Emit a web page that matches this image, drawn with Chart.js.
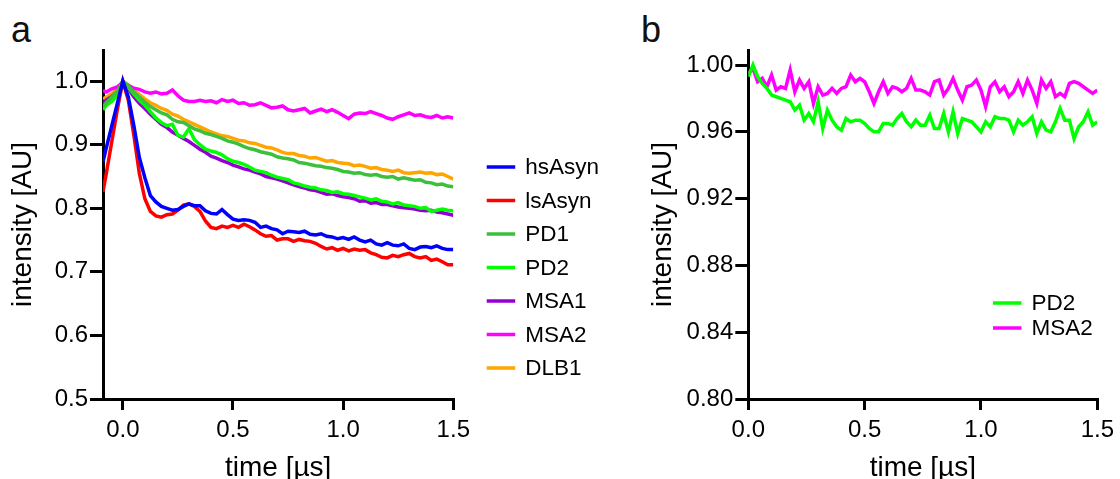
<!DOCTYPE html>
<html>
<head>
<meta charset="utf-8">
<script src="https://cdn.jsdelivr.net/npm/chart.js@4.4.0/dist/chart.umd.min.js"></script>
<style>
  body { margin: 0; background: #fff; width: 1120px; height: 479px; overflow: hidden; position: relative; font-family: "Liberation Sans", Arial, sans-serif; }
  canvas { position: absolute; top: 0; }
  #chartA { left: 0; }
  #chartB { left: 620px; }
  .panel-tag { position: absolute; font-size: 36px; line-height: 1; color: #111; }
</style>
</head>
<body>
<div class="panel-tag" style="left:11px; top:12px">a</div>
<div class="panel-tag" style="left:641px; top:12px">b</div>
<canvas id="chartA" width="620" height="479"></canvas>
<canvas id="chartB" width="500" height="479"></canvas>
<script>
// ---- panel a data (time in µs, intensity normalised) ----
const timeA = [-0.09, -0.075, -0.05, -0.025,
  0, 0.025, 0.05, 0.075, 0.1, 0.125, 0.15, 0.175, 0.2, 0.225,
  0.25, 0.275, 0.3, 0.325, 0.35, 0.375, 0.4, 0.425, 0.45, 0.475,
  0.5, 0.525, 0.55, 0.575, 0.6, 0.625, 0.65, 0.675, 0.7, 0.725,
  0.75, 0.775, 0.8, 0.825, 0.85, 0.875, 0.9, 0.925, 0.95, 0.975,
  1.0, 1.025, 1.05, 1.075, 1.1, 1.125, 1.15, 1.175, 1.2, 1.225,
  1.25, 1.275, 1.3, 1.325, 1.35, 1.375, 1.4, 1.425, 1.45, 1.475,
  1.5];

const hsAsyn = [0.873, 0.895, 0.930, 0.965,
  1.000, 0.975, 0.930, 0.880, 0.848, 0.820, 0.810, 0.803, 0.800, 0.797,
  0.798, 0.803, 0.807, 0.804, 0.804, 0.796, 0.792, 0.791, 0.798, 0.790,
  0.783, 0.781, 0.782, 0.781, 0.778, 0.770, 0.772, 0.768, 0.766, 0.760,
  0.764, 0.763, 0.762, 0.764, 0.759, 0.758, 0.760, 0.756, 0.755, 0.752,
  0.754, 0.751, 0.755, 0.750, 0.747, 0.750, 0.744, 0.742, 0.746, 0.742,
  0.741, 0.744, 0.737, 0.735, 0.739, 0.740, 0.738, 0.741, 0.737, 0.735,
  0.735];

const lsAsyn = [0.826, 0.855, 0.905, 0.955,
  1.000, 0.970, 0.915, 0.855, 0.815, 0.795, 0.788, 0.786, 0.790, 0.791,
  0.797, 0.805, 0.807, 0.803, 0.795, 0.780, 0.770, 0.768, 0.772, 0.770,
  0.773, 0.770, 0.775, 0.771, 0.766, 0.760, 0.756, 0.757, 0.750, 0.752,
  0.752, 0.748, 0.751, 0.749, 0.748, 0.745, 0.740, 0.736, 0.738, 0.734,
  0.737, 0.733, 0.736, 0.734, 0.735, 0.730, 0.727, 0.723, 0.722, 0.726,
  0.724, 0.727, 0.729, 0.724, 0.722, 0.724, 0.718, 0.720, 0.716, 0.711,
  0.711];

const pd1 = [0.960, 0.966, 0.975, 0.984,
  1.000, 0.992, 0.983, 0.975, 0.967, 0.960, 0.955, 0.950, 0.947, 0.940,
  0.936, 0.935, 0.930, 0.925, 0.922, 0.918, 0.916, 0.913, 0.910, 0.906,
  0.904, 0.901, 0.897, 0.894, 0.892, 0.889, 0.887, 0.885, 0.881, 0.879,
  0.878, 0.876, 0.872, 0.871, 0.869, 0.867, 0.866, 0.864, 0.863, 0.861,
  0.858, 0.857, 0.855, 0.856, 0.853, 0.852, 0.853, 0.850, 0.849, 0.850,
  0.846, 0.848, 0.846, 0.844, 0.845, 0.841, 0.840, 0.837, 0.838, 0.835,
  0.834];

const pd2 = [0.955, 0.962, 0.968, 0.978,
  1.000, 0.990, 0.980, 0.970, 0.962, 0.952, 0.942, 0.935, 0.930, 0.932,
  0.915, 0.912, 0.925, 0.908, 0.900, 0.893, 0.890, 0.888, 0.884, 0.878,
  0.874, 0.872, 0.869, 0.865, 0.860, 0.858, 0.856, 0.852, 0.849, 0.847,
  0.845, 0.840, 0.838, 0.835, 0.833, 0.832, 0.829, 0.828, 0.825, 0.826,
  0.823, 0.822, 0.820, 0.818, 0.816, 0.813, 0.815, 0.811, 0.810, 0.807,
  0.809, 0.805, 0.804, 0.803, 0.800, 0.801, 0.795, 0.797, 0.799, 0.797,
  0.796];

const msa1 = [0.965, 0.970, 0.976, 0.983,
  1.000, 0.988, 0.975, 0.965, 0.957, 0.948, 0.940, 0.932, 0.927, 0.920,
  0.915, 0.910, 0.905, 0.899, 0.893, 0.888, 0.882, 0.879, 0.875, 0.872,
  0.868, 0.865, 0.862, 0.860, 0.857, 0.854, 0.850, 0.848, 0.846, 0.843,
  0.840, 0.837, 0.834, 0.832, 0.829, 0.828, 0.825, 0.822, 0.823, 0.820,
  0.818, 0.817, 0.815, 0.811, 0.812, 0.808, 0.809, 0.806, 0.806, 0.804,
  0.802, 0.801, 0.800, 0.799, 0.797, 0.796, 0.797, 0.794, 0.793, 0.791,
  0.789];

const msa2 = [0.985, 0.983, 0.988, 0.991,
  0.998, 0.993, 0.989, 0.987, 0.983, 0.981, 0.983, 0.980, 0.981, 0.986,
  0.977, 0.970, 0.968, 0.968, 0.970, 0.968, 0.969, 0.966, 0.971, 0.968,
  0.970, 0.965, 0.966, 0.962, 0.963, 0.966, 0.962, 0.958, 0.959, 0.961,
  0.955, 0.953, 0.955, 0.957, 0.950, 0.953, 0.956, 0.952, 0.955, 0.951,
  0.946, 0.941, 0.948, 0.950, 0.949, 0.952, 0.949, 0.946, 0.942, 0.940,
  0.944, 0.947, 0.950, 0.946, 0.947, 0.944, 0.943, 0.946, 0.942, 0.944,
  0.942];

const dlb1 = [0.972, 0.975, 0.980, 0.988,
  1.000, 0.994, 0.986, 0.979, 0.972, 0.966, 0.962, 0.957, 0.954, 0.948,
  0.945, 0.940, 0.936, 0.932, 0.928, 0.924, 0.920, 0.917, 0.914, 0.913,
  0.910, 0.907, 0.906, 0.903, 0.902, 0.899, 0.896, 0.895, 0.892, 0.888,
  0.886, 0.886, 0.883, 0.882, 0.879, 0.880, 0.877, 0.874, 0.875, 0.872,
  0.871, 0.870, 0.867, 0.868, 0.866, 0.863, 0.864, 0.861, 0.860, 0.858,
  0.860, 0.856, 0.855, 0.856, 0.857, 0.855, 0.856, 0.853, 0.854, 0.850,
  0.846];

// ---- panel b data ----
const timeB = [0, 0.02, 0.04, 0.06, 0.08, 0.1, 0.12, 0.14, 0.16, 0.18,
  0.2, 0.22, 0.24, 0.26, 0.28, 0.3, 0.32, 0.34, 0.36, 0.38,
  0.4, 0.42, 0.44, 0.46, 0.48, 0.5, 0.52, 0.54, 0.56, 0.58,
  0.6, 0.62, 0.64, 0.66, 0.68, 0.7, 0.72, 0.74, 0.76, 0.78,
  0.8, 0.82, 0.84, 0.86, 0.88, 0.9, 0.92, 0.94, 0.96, 0.98,
  1.0, 1.02, 1.04, 1.06, 1.08, 1.1, 1.12, 1.14, 1.16, 1.18,
  1.2, 1.22, 1.24, 1.26, 1.28, 1.3, 1.32, 1.34, 1.36, 1.38,
  1.4, 1.42, 1.44, 1.46, 1.48, 1.5];

const pd2B = [0.993, 1.000, 0.993, 0.989, 0.986, 0.982, 0.981, 0.980, 0.979, 0.978,
  0.973, 0.976, 0.967, 0.971, 0.966, 0.978, 0.962, 0.973, 0.967, 0.963,
  0.961, 0.968, 0.966, 0.967, 0.967, 0.965, 0.962, 0.960, 0.960, 0.965,
  0.965, 0.964, 0.968, 0.971, 0.966, 0.963, 0.967, 0.964, 0.964, 0.970,
  0.962, 0.962, 0.971, 0.960, 0.972, 0.959, 0.968, 0.967, 0.966, 0.963,
  0.960, 0.966, 0.963, 0.969, 0.968, 0.968, 0.967, 0.960, 0.967, 0.964,
  0.966, 0.969, 0.959, 0.966, 0.961, 0.960, 0.966, 0.974, 0.967, 0.967,
  0.956, 0.963, 0.966, 0.972, 0.964, 0.966];

const msa2B = [0.995, 0.998, 0.990, 0.992, 0.987, 0.994, 0.985, 0.987, 0.986, 0.997,
  0.984, 0.991, 0.986, 0.990, 0.977, 0.987, 0.982, 0.983, 0.986, 0.983,
  0.986, 0.987, 0.994, 0.990, 0.992, 0.990, 0.984, 0.977, 0.984, 0.990,
  0.983, 0.987, 0.986, 0.984, 0.986, 0.992, 0.985, 0.985, 0.984, 0.982,
  0.990, 0.991, 0.982, 0.986, 0.992, 0.985, 0.979, 0.987, 0.988, 0.991,
  0.985, 0.975, 0.987, 0.990, 0.984, 0.987, 0.981, 0.984, 0.990, 0.983,
  0.991, 0.985, 0.977, 0.991, 0.986, 0.990, 0.981, 0.983, 0.981, 0.989,
  0.990, 0.989, 0.987, 0.985, 0.983, 0.985];

// ---- ticks ----
const xTicks = [0, 0.5, 1.0, 1.5];
const yTicksA = [0.5, 0.6, 0.7, 0.8, 0.9, 1.0];
const yTicksB = [0.80, 0.84, 0.88, 0.92, 0.96, 1.00];

Chart.defaults.font.family = '"Liberation Sans", Arial, sans-serif';
Chart.defaults.color = '#000';

// simple line-sample legend, drawn at a fixed spot of the canvas
const lineLegend = {
  id: 'lineLegend',
  afterDraw(chart, args, opts) {
    const ctx = chart.ctx;
    ctx.save();
    ctx.font = opts.fontSize + 'px "Liberation Sans", Arial, sans-serif';
    ctx.textBaseline = 'middle';
    ctx.textAlign = 'left';
    chart.data.datasets.forEach((ds, i) => {
      const y = opts.y + i * opts.spacing;
      ctx.strokeStyle = ds.borderColor;
      ctx.lineWidth = 3.5;
      ctx.beginPath();
      ctx.moveTo(opts.x, y);
      ctx.lineTo(opts.x + opts.len, y);
      ctx.stroke();
      ctx.fillStyle = '#000';
      ctx.fillText(ds.label, opts.x + opts.len + opts.gap, y + 1);
    });
    ctx.restore();
  }
};

function series(label, data, color) {
  return { label: label, data: data, borderColor: color, borderWidth: 3.5, pointRadius: 0, tension: 0, fill: false };
}

function scale(axis, min, max, tickValues, digits, title, size, titlePad) {
  const isX = axis === 'x';
  return {
    type: 'linear',
    min: min,
    max: max,
    afterBuildTicks: s => { s.ticks = tickValues.map(v => ({ value: v })); },
    afterFit: s => { if (isX) s.height = size; else s.width = size; },
    border: { display: true, color: '#000', width: 3 },
    grid: { drawOnChartArea: false, color: '#000', lineWidth: 3, tickLength: isX ? 11 : 13 },
    ticks: { font: { size: 24 }, color: '#000', padding: isX ? 6 : 2, maxRotation: 0, callback: v => v.toFixed(digits) },
    title: {
      display: true, text: title, color: '#000',
      font: { size: 28, lineHeight: isX ? 0.8 : 1.2 },
      padding: isX ? { top: 0, bottom: 0 } : { top: titlePad, bottom: 0 }
    }
  };
}

new Chart(document.getElementById('chartA'), {
  type: 'line',
  data: {
    labels: timeA,
    datasets: [
      series('hsAsyn', hsAsyn, '#0000ff'),
      series('lsAsyn', lsAsyn, '#ff0000'),
      series('PD1', pd1, '#3cc03c'),
      series('PD2', pd2, '#00ff00'),
      series('MSA1', msa1, '#9400d3'),
      series('MSA2', msa2, '#ff00ff'),
      series('DLB1', dlb1, '#ffa500')
    ]
  },
  options: {
    responsive: false,
    animation: false,
    layout: { padding: { left: 0, top: 50, right: 166.7, bottom: 0 } },
    plugins: {
      legend: { display: false },
      tooltip: { enabled: false },
      lineLegend: { x: 486.7, y: 167, spacing: 33.5, len: 28.5, gap: 10, fontSize: 22.5 }
    },
    scales: {
      x: scale('x', -0.09, 1.5, xTicks, 1, 'time [µs]', 80),
      y: scale('y', 0.5, 1.049, yTicksA, 1, 'intensity [AU]', 103, 6.5)
    }
  },
  plugins: [lineLegend]
});

new Chart(document.getElementById('chartB'), {
  type: 'line',
  data: {
    labels: timeB,
    datasets: [
      series('PD2', pd2B, '#00ff00'),
      series('MSA2', msa2B, '#ff00ff')
    ]
  },
  options: {
    responsive: false,
    animation: false,
    layout: { padding: { left: 0, top: 50, right: 20, bottom: 0 } },
    plugins: {
      legend: { display: false },
      tooltip: { enabled: false },
      lineLegend: { x: 373, y: 303, spacing: 25, len: 28.5, gap: 10, fontSize: 22.5 }
    },
    scales: {
      x: scale('x', 0, 1.5, xTicks, 1, 'time [µs]', 80),
      y: scale('y', 0.8, 1.009, yTicksB, 2, 'intensity [AU]', 128.3, 26)
    }
  },
  plugins: [lineLegend]
});
</script>
</body>
</html>
